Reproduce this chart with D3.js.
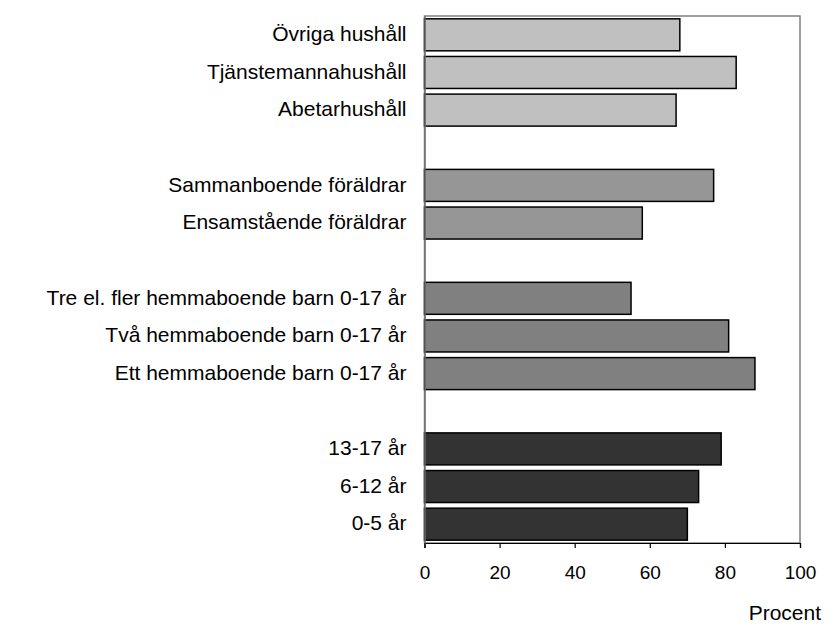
<!DOCTYPE html>
<html><head><meta charset="utf-8">
<script src="https://cdn.jsdelivr.net/npm/d3@7"></script>
<style>body{margin:0;background:#fff}svg{display:block}text{font-family:"Liberation Sans",Arial,sans-serif;fill:#000}</style>
</head><body><svg id="c" width="836" height="642"></svg>
<script>
const categories = ["Övriga hushåll","Tjänstemannahushåll","Abetarhushåll","",
  "Sammanboende föräldrar","Ensamstående föräldrar","",
  "Tre el. fler hemmaboende barn 0-17 år","Två hemmaboende barn 0-17 år","Ett hemmaboende barn 0-17 år","",
  "13-17 år","6-12 år","0-5 år"];
const values = [68,83,67,null,77,58,null,55,81,88,null,79,73,70];
const groups = [0,0,0,null,1,1,null,2,2,2,null,3,3,3];
const groupColors = ["#c0c0c0","#969696","#808080","#333333"];
const xTicks = [0,20,40,60,80,100];
const xLabel = "Procent";

const svg = d3.select("#c");
const L=424.5, R=800, T=16, B=543;
const keys = categories.map((c,i)=>i);
const y = d3.scaleBand().domain(keys).range([T,B]).paddingInner(0.15).paddingOuter(0.075);
const x = d3.scaleLinear().domain([0,100]).range([L,R]);

// frame
svg.append("rect").attr("x",L).attr("y",T).attr("width",R-L).attr("height",B-T)
  .attr("fill","none").attr("stroke","#808080").attr("stroke-width",1.5);

// bars
svg.append("g").selectAll("rect").data(keys.filter(i=>values[i]!=null)).join("rect")
  .attr("x",x(0)).attr("y",i=>y(i)).attr("width",i=>x(values[i])-x(0)).attr("height",y.bandwidth())
  .attr("fill",i=>groupColors[groups[i]]).attr("stroke","#000").attr("stroke-width",1.5);

// x axis
const xa = svg.append("g").attr("transform",`translate(0,${B})`)
  .call(d3.axisBottom(x).tickValues(xTicks).tickSize(5).tickPadding(18).tickFormat(d3.format("d")));
xa.select(".domain").attr("stroke","#000").attr("stroke-width",1.2);
xa.selectAll(".tick line").attr("stroke","#000").attr("stroke-width",1.2);
xa.selectAll("text").attr("font-size",19).attr("font-family","Liberation Sans, Arial, sans-serif").attr("fill","#000");

// y axis
const ya = svg.append("g").attr("transform",`translate(${L},0)`)
  .call(d3.axisLeft(y).tickSize(0).tickPadding(18).tickFormat(i=>categories[i]));
ya.select(".domain").attr("stroke","#6e6e6e").attr("stroke-width",1.5);
ya.selectAll("text").attr("font-size",21).attr("dy","0.3em").attr("font-family","Liberation Sans, Arial, sans-serif").attr("fill","#000");

svg.append("text").attr("x",821).attr("y",620).attr("text-anchor","end").attr("font-size",21).text(xLabel);
</script></body></html>
